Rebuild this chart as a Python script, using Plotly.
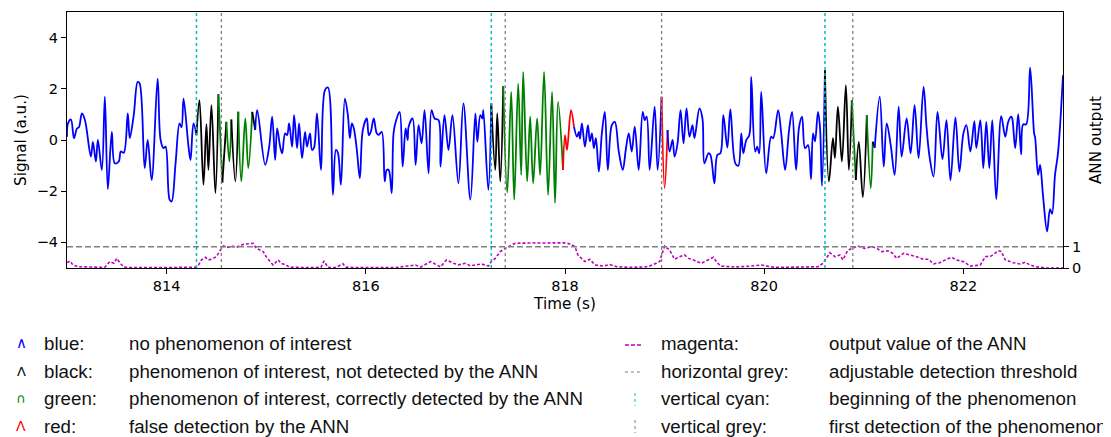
import plotly.graph_objects as go

# ---------------- data ----------------
sig_t = [813.00, 813.01, 813.04, 813.07, 813.10, 813.12, 813.15, 813.18, 813.24, 813.26,
         813.29, 813.31, 813.35, 813.38, 813.41, 813.45, 813.48, 813.52, 813.54, 813.57,
         813.61, 813.63, 813.67, 813.71, 813.73, 813.78, 813.81, 813.85, 813.91, 813.94,
         813.97, 813.99, 814.03, 814.05, 814.09, 814.13, 814.15, 814.17, 814.22, 814.24,
         814.27, 814.30,
         814.33, 814.37, 814.40, 814.42, 814.45, 814.49, 814.52, 814.56, 814.60, 814.63,
         814.65, 814.69, 814.72, 814.75, 814.79, 814.82, 814.86, 814.89,
         814.91, 814.99, 815.03, 815.06, 815.09, 815.11, 815.14, 815.16, 815.19, 815.21,
         815.23, 815.26, 815.28, 815.31, 815.33, 815.36, 815.39, 815.41, 815.44, 815.46,
         815.48, 815.51, 815.55, 815.59, 815.62, 815.67, 815.70, 815.72, 815.75, 815.79,
         815.82, 815.84, 815.86, 815.88, 815.91, 815.94, 815.97, 816.01, 816.03, 816.05,
         816.08, 816.11, 816.13, 816.16, 816.19, 816.21, 816.23, 816.26, 816.28, 816.31,
         816.34, 816.37, 816.40, 816.42, 816.43, 816.47, 816.50, 816.53, 816.56, 816.59,
         816.63, 816.66, 816.69, 816.73, 816.75, 816.79, 816.83, 816.87, 816.93, 816.98,
         817.05, 817.10, 817.12, 817.15, 817.17, 817.18, 817.23, 817.26,
         817.30, 817.32, 817.35, 817.38,
         817.42, 817.46, 817.49, 817.53, 817.56, 817.58, 817.62, 817.65, 817.68, 817.72,
         817.75, 817.79, 817.83, 817.87, 817.90, 817.93, 817.98,
         818.00, 818.02, 818.06, 818.09,
         818.12, 818.14, 818.15, 818.17, 818.20, 818.23, 818.25, 818.27, 818.29, 818.31,
         818.34, 818.37, 818.40, 818.43, 818.47, 818.50, 818.54, 818.58, 818.61, 818.64,
         818.67, 818.70, 818.74, 818.78, 818.80, 818.82, 818.85, 818.90, 818.93, 818.97,
         819.00, 819.03,
         819.05, 819.08, 819.10, 819.13, 819.16, 819.19, 819.22, 819.25, 819.28, 819.30,
         819.35, 819.38, 819.40, 819.44, 819.46, 819.50, 819.53, 819.56, 819.59, 819.63,
         819.66, 819.71, 819.74, 819.77, 819.79, 819.82, 819.85, 819.87, 819.91, 819.93,
         819.95, 819.97, 820.02, 820.07, 820.09, 820.14, 820.17, 820.21, 820.25, 820.28,
         820.32, 820.35, 820.38, 820.41, 820.44, 820.47, 820.49, 820.51, 820.54, 820.56,
         820.58, 820.61,
         820.65, 820.69, 820.71, 820.74, 820.78, 820.82, 820.85, 820.88, 820.92, 820.95,
         820.99, 821.03, 821.07, 821.09, 821.11,
         821.16, 821.20, 821.23, 821.27, 821.31, 821.35, 821.38, 821.43, 821.47, 821.51,
         821.55, 821.60, 821.63, 821.66, 821.70, 821.74, 821.79, 821.83, 821.87, 821.92,
         821.96, 822.00, 822.03, 822.07, 822.11, 822.13, 822.17, 822.20, 822.23, 822.26,
         822.29, 822.33, 822.38, 822.42, 822.45, 822.48, 822.49, 822.52, 822.55, 822.58,
         822.60, 822.63, 822.67, 822.71, 822.72, 822.75, 822.77, 822.80, 822.84, 822.87,
         822.89, 822.92, 822.95, 823.00]
sig_v = [0.13, 0.65, 0.80, 0.07, 0.45, 0.50, 1.04, 0.78, -0.65, -0.07,
         -0.84, 0.00, -1.17, 1.69, -1.92, 0.32, -0.91, -0.84, -0.45, -0.50,
         1.04, 0.07, 0.97, 2.27, 2.20, -1.10, 0.00, -1.56, 2.40, 0.00,
         -0.32, -0.26, -2.33, -2.40, -0.91, 0.65, 0.50, 1.62, -0.26, -0.78,
         0.65, 0.19,
         1.56, -1.75, 0.62, -1.17, 1.36, -2.07, 1.79, -1.66, 0.71, -0.84,
         0.80, -1.62, 1.10, -1.62, 0.84, -1.10, 1.10, 0.39,
         1.17, -0.97, -0.26, 0.91, -0.78, 0.45, -0.26, -0.52, 0.26, 0.19,
         0.65, -0.26, 0.97, -0.32, 0.65, -0.71, 0.32, -0.26, 0.26, -0.39,
         -0.30, 1.04, -1.17, 1.95, 2.05, -2.14, -0.39, -0.50, -1.75, 1.62,
         0.97, 0.07, 0.65, 0.45, -0.39, -1.49, 0.39, 0.84, 0.19, 0.32,
         0.84, 0.26, 0.20, 0.32, -1.62, -1.17, -1.17, -2.07, 0.32, 0.84,
         1.10, -1.04, 0.45, 0.00, 0.52, 0.84, -0.97, 0.58, -0.13, 1.17,
         -1.30, 1.17, 0.84, 0.78, -1.04, 0.97, -0.39, 0.97, -1.69, 1.43,
         -2.33, 1.04, -0.07, 0.97, 0.84, 1.17, -1.95, 1.43,
         -1.17, 1.04, -1.62, 2.10,
         -2.05, 1.88, -2.33, 2.20, -1.36, 2.66, -1.62, 0.91, -1.69, 0.84,
         -1.36, 2.66, -2.14, 1.88, -2.46, 1.49, -1.17,
         0.19, -0.39, 1.17, 0.52,
         0.13, 0.32, 0.05, 0.65, -0.26, 0.58, -0.05, 0.26, -0.32, 0.07,
         -1.23, 0.26, 1.10, -1.17, 0.58, 0.71, -0.45, -1.17, -0.39, 0.26,
         -0.45, 0.52, -1.17, 1.10, 0.78, 0.91, -1.17, 1.30, -1.17, 1.69,
         -1.88, 0.39,
         -0.45, 0.00, -0.65, -0.13, 1.17, -0.13, 1.23, 0.13, 0.58, 0.07,
         1.23, 0.84, -0.91, -0.52, -0.58, -1.69, -0.58, -0.52, 0.97, -0.30,
         1.20, -0.91, -1.01, 0.26, -0.52, 0.00, 0.19, 2.46, -0.45, -0.26,
         -0.52, 1.88, -1.30, 0.13, 0.07, 1.17, 0.30, -1.17, 0.40, 1.10,
         -1.17, 0.50, 0.91, -0.32, -0.20, -1.53, 0.26, -0.05, 1.10, 0.50,
         -1.79, 2.72,
         -1.62, 0.07, -0.71, 1.30, -0.84, 2.14, -1.17, 1.56, -1.56, -0.07,
         -2.23, 0.97, -1.88, -0.07, -0.30,
         1.69, -1.04, 0.65, -0.19, -1.36, 1.30, -0.65, 0.84, -0.52, 1.36,
         -0.71, 2.07, 0.50, -0.65, -1.43, 1.10, -0.75, 0.78, -1.58, 0.88,
         -1.23, 0.26, 0.58, -0.45, 0.74, -0.32, 0.78, -1.10, 0.71, -1.10,
         0.78, -2.31, 0.93, 0.13, 0.71, 0.91, 0.85, -0.32, 1.01, -0.56,
         0.61, 0.61, 2.83, 0.26, 0.10, -1.36, -0.97, -2.20, -3.57, -2.70,
         -2.88, -1.36, -0.50, 2.53]

# segment classes: start time of each class run
class_start = [813.0, 814.305, 814.54, 814.58, 814.62, 814.67, 814.74, 814.88, 814.90,
               817.27, 817.40, 817.99, 818.10, 818.98, 819.04,
               820.62, 820.90, 820.94, 821.05, 821.10, 821.12]
class_name = ["blue", "black", "green", "black", "green", "black", "green", "black", "blue",
              "black", "green", "red", "blue", "red", "blue",
              "black", "green", "black", "green", "black", "blue"]

ann_t = [813.00, 813.03, 813.06, 813.11, 813.38, 813.43, 813.47, 813.50, 813.53, 813.57,
         813.70, 813.90, 814.10, 814.29, 814.32, 814.35, 814.39, 814.42, 814.45, 814.50,
         814.54, 814.57, 814.62, 814.65, 814.70, 814.77, 814.87, 814.90, 814.97, 815.00,
         815.04, 815.07, 815.12, 815.15, 815.20, 815.23, 815.40, 815.55, 815.58, 815.62,
         815.70, 815.77, 815.80, 815.90, 816.10, 816.30, 816.50, 816.55, 816.65, 816.70,
         816.75, 816.81, 816.88, 816.93, 817.00, 817.05, 817.10, 817.16, 817.23, 817.26,
         817.30, 817.35, 817.40, 817.45, 817.50, 817.63, 817.80, 818.00, 818.05, 818.10,
         818.13, 818.17, 818.20, 818.25, 818.30, 818.39, 818.45, 818.52, 818.65, 818.80,
         818.85, 818.95, 819.00, 819.05, 819.10, 819.15, 819.20, 819.24, 819.29, 819.32,
         819.37, 819.42, 819.49, 819.52, 819.56, 819.70, 819.85, 819.97, 820.10, 820.30,
         820.54, 820.59, 820.63, 820.66, 820.71, 820.76, 820.79, 820.84, 820.89, 820.94,
         821.01, 821.08, 821.13, 821.18, 821.24, 821.29, 821.33, 821.40, 821.46, 821.53,
         821.60, 821.65, 821.70, 821.76, 821.82, 821.88, 821.93, 822.00, 822.07, 822.17,
         822.22, 822.28, 822.35, 822.38, 822.42, 822.50, 822.57, 822.62, 822.67, 822.73,
         822.83, 823.00]
ann_v = [0.25, 0.33, 0.14, 0.06, 0.03, 0.30, 0.22, 0.45, 0.25, 0.03,
         0.02, 0.03, 0.02, 0.03, 0.14, 0.38, 0.50, 0.38, 0.41, 0.53,
         0.84, 1.03, 0.97, 1.03, 0.97, 1.11, 1.16, 0.92, 0.77, 0.53,
         0.30, 0.14, 0.38, 0.22, 0.14, 0.04, 0.02, 0.03, 0.33, 0.03,
         0.02, 0.20, 0.04, 0.02, 0.02, 0.02, 0.14, 0.04, 0.30, 0.18,
         0.05, 0.38, 0.22, 0.15, 0.22, 0.10, 0.15, 0.19, 0.09, 0.30,
         0.45, 0.77, 0.92, 1.03, 1.16, 1.17, 1.17, 1.18, 1.13, 1.00,
         0.61, 0.41, 0.30, 0.41, 0.14, 0.09, 0.16, 0.06, 0.03, 0.05,
         0.09, 0.30, 1.03, 0.84, 0.41, 0.53, 0.61, 0.45, 0.38, 0.30,
         0.22, 0.34, 0.50, 0.30, 0.09, 0.05, 0.08, 0.14, 0.03, 0.04,
         0.06, 0.22, 0.53, 0.72, 0.53, 0.61, 0.38, 0.84, 0.92, 1.03,
         0.92, 1.00, 0.92, 0.77, 0.81, 0.69, 0.45, 0.69, 0.61, 0.53,
         0.41, 0.41, 0.19, 0.25, 0.38, 0.50, 0.38, 0.30, 0.09, 0.14,
         0.53, 0.56, 0.81, 0.78, 0.38, 0.25, 0.19, 0.27, 0.14, 0.06,
         0.00, 0.00]

threshold = 1.0
onset_t = [814.30, 817.26, 820.61]              # vertical cyan
first_det_t = [814.55, 817.40, 818.97, 820.89]  # vertical grey

x_ticks = [814, 816, 818, 820, 822]
y_ticks = [-4, -2, 0, 2, 4]
ann_ticks = [0, 1]

legend_left = [("blue", "blue:", "no phenomenon of interest"),
               ("black", "black:", "phenomenon of interest, not detected by the ANN"),
               ("green", "green:", "phenomenon of interest, correctly detected by the ANN"),
               ("red", "red:", "false detection by the ANN")]
legend_right = [("magenta:", "output value of the ANN"),
                ("horizontal grey:", "adjustable detection threshold"),
                ("vertical cyan:", "beginning of the phenomenon"),
                ("vertical grey:", "first detection of the phenomenon")]

# ---------------- styling ----------------
COL = {"blue": "#0000FF", "black": "#000000", "green": "#008000", "red": "#FF0000"}
MAGENTA = "#BF00BF"
CYAN = "#00BFBF"
GREY = "#808080"
OFF = 8  # page body margin of the html page
W, H = 1111 - OFF, 437 - OFF
L, R, T, B = 67 - OFF, 1063 - OFF, 12 - OFF, 268 - OFF


def px2paper(px, py):
    """page pixel -> paper coordinates"""
    px -= OFF
    py -= OFF
    return (px - L) / (R - L), (B - py) / (B - T)


def cls_of(t):
    c = class_name[0]
    for s, n in zip(class_start, class_name):
        if t >= s:
            c = n
    return c


fig = go.Figure()

classes = [cls_of(t) for t in sig_t]
runs = []
start = 0
for i in range(1, len(sig_t) + 1):
    if i == len(sig_t) or classes[i] != classes[start]:
        runs.append((start, i, classes[start]))
        start = i
for s, e, c in runs:
    s0 = s - 1 if s > 0 else s
    fig.add_trace(go.Scatter(
        x=sig_t[s0:e], y=sig_v[s0:e], mode="lines",
        line=dict(color=COL[c], width=1.8, shape="spline", smoothing=1.0),
        showlegend=False, hoverinfo="skip", yaxis="y"))

fig.add_trace(go.Scatter(
    x=ann_t, y=ann_v, mode="lines", yaxis="y2",
    line=dict(color=MAGENTA, width=1.6, dash="3px,2px"),
    showlegend=False, hoverinfo="skip"))

fig.add_trace(go.Scatter(
    x=[813.0, 823.0], y=[threshold, threshold], mode="lines", yaxis="y2",
    line=dict(color=GREY, width=1.5, dash="6px,3px"),
    showlegend=False, hoverinfo="skip"))

shapes = []
for t in onset_t:
    shapes.append(dict(type="line", xref="x", yref="paper", x0=t, x1=t, y0=0, y1=1,
                       line=dict(color=CYAN, width=1.5, dash="dot")))
for t in first_det_t:
    shapes.append(dict(type="line", xref="x", yref="paper", x0=t, x1=t, y0=0, y1=1,
                       line=dict(color=GREY, width=1.3, dash="dot")))

annotations = []
row_y = [343, 371, 398, 426]
LEG_FONT = dict(family="Liberation Sans, Arial", size=18.7, color="#111111")
glyph = {"blue": "\u2227", "black": "\u039B", "green": "\u2229", "red": "\u039B"}
gsize = {"blue": 15, "black": 13, "green": 13, "red": 14}
for (c, lab, desc), py in zip(legend_left, row_y):
    x0, y0 = px2paper(21, py)
    annotations.append(dict(xref="paper", yref="paper", x=x0, y=y0, text=glyph[c],
                            showarrow=False, xanchor="center", yanchor="middle",
                            font=dict(family="DejaVu Sans", size=gsize[c], color=COL[c])))
    x1, _ = px2paper(42, py)
    annotations.append(dict(xref="paper", yref="paper", x=x1, y=y0, text=lab,
                            showarrow=False, xanchor="left", yanchor="middle", font=LEG_FONT))
    x2, _ = px2paper(127, py)
    annotations.append(dict(xref="paper", yref="paper", x=x2, y=y0, text=desc,
                            showarrow=False, xanchor="left", yanchor="middle", font=LEG_FONT))
for (lab, desc), py in zip(legend_right, row_y):
    x1, y0 = px2paper(659, py)
    annotations.append(dict(xref="paper", yref="paper", x=x1, y=y0, text=lab,
                            showarrow=False, xanchor="left", yanchor="middle", font=LEG_FONT))
    x2, _ = px2paper(827, py)
    annotations.append(dict(xref="paper", yref="paper", x=x2, y=y0, text=desc,
                            showarrow=False, xanchor="left", yanchor="middle", font=LEG_FONT))

a, b = px2paper(625, 345)
c_, _ = px2paper(642, 345)
shapes.append(dict(type="line", xref="paper", yref="paper", x0=a, x1=c_, y0=b, y1=b,
                   line=dict(color=MAGENTA, width=1.6, dash="4px,2px")))
a, b = px2paper(625, 372)
c_, _ = px2paper(642, 372)
shapes.append(dict(type="line", xref="paper", yref="paper", x0=a, x1=c_, y0=b, y1=b,
                   line=dict(color=GREY, width=1, dash="dot")))
a, b = px2paper(635, 393)
_, d = px2paper(635, 406)
shapes.append(dict(type="line", xref="paper", yref="paper", x0=a, x1=a, y0=b, y1=d,
                   line=dict(color=CYAN, width=1, dash="dot")))
a, b = px2paper(635, 420)
_, d = px2paper(635, 433)
shapes.append(dict(type="line", xref="paper", yref="paper", x0=a, x1=a, y0=b, y1=d,
                   line=dict(color=GREY, width=1, dash="dot")))

TICK_FONT = dict(family="DejaVu Sans", size=14.5, color="black")
TITLE_FONT = dict(family="DejaVu Sans", size=15.2, color="black")
fig.update_layout(
    width=W, height=H, autosize=False,
    margin=dict(l=L, r=W - R, t=T, b=H - B, pad=0),
    paper_bgcolor="white", plot_bgcolor="white",
    showlegend=False,
    font=TICK_FONT,
    xaxis=dict(range=[813.0, 823.0], tickvals=x_ticks, ticks="outside", ticklen=5,
               tickcolor="black", showline=True, linecolor="black", linewidth=1,
               mirror=True, showgrid=False, zeroline=False, tickfont=TICK_FONT,
               title=dict(text="Time (s)", font=TITLE_FONT, standoff=4)),
    yaxis=dict(range=[-5, 5], tickvals=y_ticks, ticktext=["\u22124", "\u22122", "0", "2", "4"],
               ticks="outside", ticklen=5, tickcolor="black", showline=True,
               linecolor="black", linewidth=1, mirror=True, showgrid=False,
               zeroline=False, tickfont=TICK_FONT,
               title=dict(text="Signal (a.u.)", font=TITLE_FONT, standoff=6)),
    yaxis2=dict(range=[0, 12], tickvals=ann_ticks, overlaying="y", side="right",
                ticks="outside", ticklen=5, tickcolor="black", showline=False,
                showgrid=False, zeroline=False, tickfont=TICK_FONT,
                title=dict(text="ANN output", font=TITLE_FONT, standoff=10)),
    shapes=shapes,
    annotations=annotations,
)

fig.write_html("out.html")
